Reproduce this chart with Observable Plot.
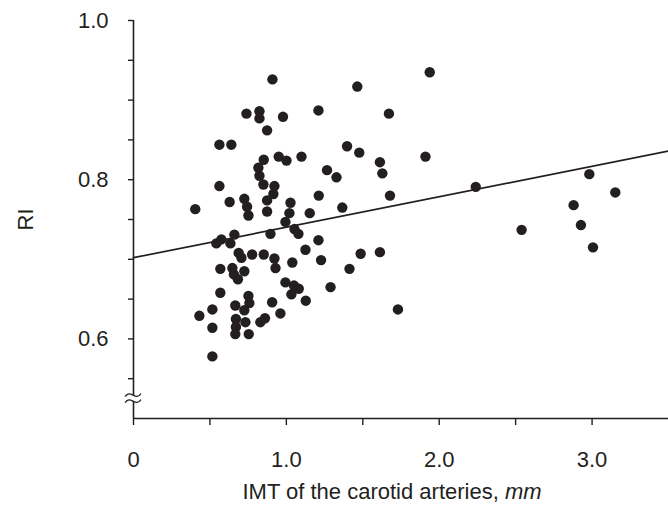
<!DOCTYPE html>
<html><head><meta charset="utf-8">
<script src="https://cdn.jsdelivr.net/npm/d3@7"></script>
<script src="https://cdn.jsdelivr.net/npm/@observablehq/plot@0.6"></script>
<style>
html,body{margin:0;padding:0;background:#fff;}
#chart svg{display:block;}
</style></head><body><div id="chart"></div>
<script>
// IMT of the carotid arteries (mm) and RI for each subject
const imt = [0.909,0.739,0.824,0.824,0.978,0.874,0.562,0.640,1.210,1.464,1.938,1.671,1.397,1.477,0.852,0.950,1.001,1.099,1.266,1.328,
  1.612,1.628,1.910,0.817,0.824,0.850,0.922,0.915,0.562,2.239,1.212,1.678,0.629,0.725,0.743,0.752,0.874,0.874,1.027,1.020,
  0.994,1.053,1.079,1.153,1.366,0.404,0.896,1.210,1.125,1.227,1.039,1.486,1.612,1.413,0.542,0.575,0.634,0.660,0.688,0.706,
  0.776,0.852,0.922,0.929,0.568,0.647,0.657,0.683,0.725,0.994,1.050,1.081,1.033,1.289,0.568,1.127,0.752,0.758,0.666,0.725,
  0.907,0.516,0.431,0.961,0.670,0.670,0.732,0.830,0.860,0.516,0.666,0.754,0.516,1.730,2.982,3.152,2.879,2.927,2.539,3.006];
const ri = [0.926,0.883,0.886,0.877,0.879,0.862,0.844,0.844,0.887,0.917,0.935,0.883,0.842,0.834,0.825,0.829,0.824,0.829,0.812,0.803,
  0.822,0.808,0.829,0.815,0.805,0.794,0.792,0.782,0.792,0.791,0.780,0.780,0.772,0.776,0.766,0.755,0.774,0.760,0.771,0.758,
  0.747,0.738,0.732,0.758,0.765,0.763,0.732,0.724,0.712,0.699,0.696,0.707,0.709,0.688,0.720,0.725,0.720,0.731,0.708,0.702,
  0.706,0.706,0.701,0.689,0.688,0.689,0.681,0.675,0.685,0.671,0.667,0.663,0.656,0.665,0.658,0.648,0.654,0.645,0.642,0.636,
  0.646,0.637,0.629,0.632,0.625,0.615,0.621,0.621,0.626,0.614,0.606,0.606,0.578,0.637,0.807,0.784,0.768,0.743,0.737,0.715];
// regression line end points
const fitImt = [0, 3.5];
const fitRi = [0.702, 0.836];
// axes
const xTickValues = [0, 0.5, 1, 1.5, 2, 2.5, 3];
const xLabelValues = [0, 1, 2, 3];
const xLabelTexts = ["0", "1.0", "2.0", "3.0"];
const yTickValues = [0.55, 0.6, 0.65, 0.7, 0.75, 0.8, 0.85, 0.9, 0.95, 1.0];
const yLabelValues = [0.6, 0.8, 1.0];
const yLabelTexts = ["0.6", "0.8", "1.0"];
const xTitle = "IMT of the carotid arteries, ";
const xTitleUnit = "mm";
const yTitle = "RI";
const yBreak = 0.525;

const points = imt.map((x, i) => ({x, y: ri[i]}));
const fit = fitImt.map((x, i) => ({x, y: fitRi[i]}));
const ink = "#231f20";

const chart = Plot.plot({
  width: 668, height: 513,
  marginLeft: 133, marginRight: 0, marginTop: 20, marginBottom: 95,
  style: {fontFamily: "'Liberation Sans', Arial, sans-serif", fontSize: "22px", color: ink, background: "#fff", overflow: "visible"},
  x: {domain: [0, 3.5]},
  y: {domain: [0.5, 1.0]},
  marks: [
    Plot.ruleY([0.5], {stroke: ink, strokeWidth: 1.6}),
    Plot.ruleX([0], {y1: 0.5, y2: 1.0, stroke: ink, strokeWidth: 1.6}),
    Plot.axisX({ticks: xTickValues, tickSize: 7, tickFormat: () => "", label: null, strokeWidth: 1.4}),
    Plot.axisX({ticks: xLabelValues, tickSize: 0, tickPadding: 33, tickFormat: d => xLabelTexts[xLabelValues.indexOf(d)], label: null}),
    Plot.axisY({ticks: yTickValues, tickSize: 5, tickFormat: () => "", label: null, strokeWidth: 1.4}),
    Plot.axisY({ticks: yLabelValues, tickSize: 0, tickPadding: 25, tickFormat: d => yLabelTexts[yLabelValues.indexOf(d)], label: null}),
    Plot.line(fit, {x: "x", y: "y", stroke: ink, strokeWidth: 1.7}),
    Plot.dot(points, {x: "x", y: "y", r: 5.2, fill: ink, stroke: "none"}),
    Plot.text([yTitle], {frameAnchor: "left", dx: -108, rotate: -90, textAnchor: "middle", lineAnchor: "middle", fill: ink, fontSize: 22}),
    Plot.text([xTitle], {frameAnchor: "bottom", dy: 73, dx: -9, textAnchor: "middle", lineAnchor: "middle", fill: ink, fontSize: 22})
  ]
});

// italic unit in x title
d3.select(chart).selectAll("text").each(function() {
  if (this.textContent === xTitle) {
    const t = d3.select(this);
    t.text(null);
    const tx = t.selectAll("tspan").size() ? t : t;
    tx.append("tspan").text(xTitle);
    tx.append("tspan").attr("font-style", "italic").text(xTitleUnit);
  }
});

// axis break symbol on the y axis
const sx = chart.scale("x"), sy = chart.scale("y");
const bx = sx.apply(0), by = sy.apply(yBreak);
const g = d3.select(chart).append("g");
g.append("rect").attr("x", bx - 3).attr("y", by - 3).attr("width", 6).attr("height", 6).attr("fill", "#fff");
for (const off of [-3, 3]) {
  g.append("path")
    .attr("d", `M${bx-8},${by+off+1.5} c3,-4 5,-3 8,-1.5 s5,2.5 8,-1.5`)
    .attr("fill", "none").attr("stroke", ink).attr("stroke-width", 1.3);
}

document.getElementById("chart").appendChild(chart);
</script>
</body></html>
